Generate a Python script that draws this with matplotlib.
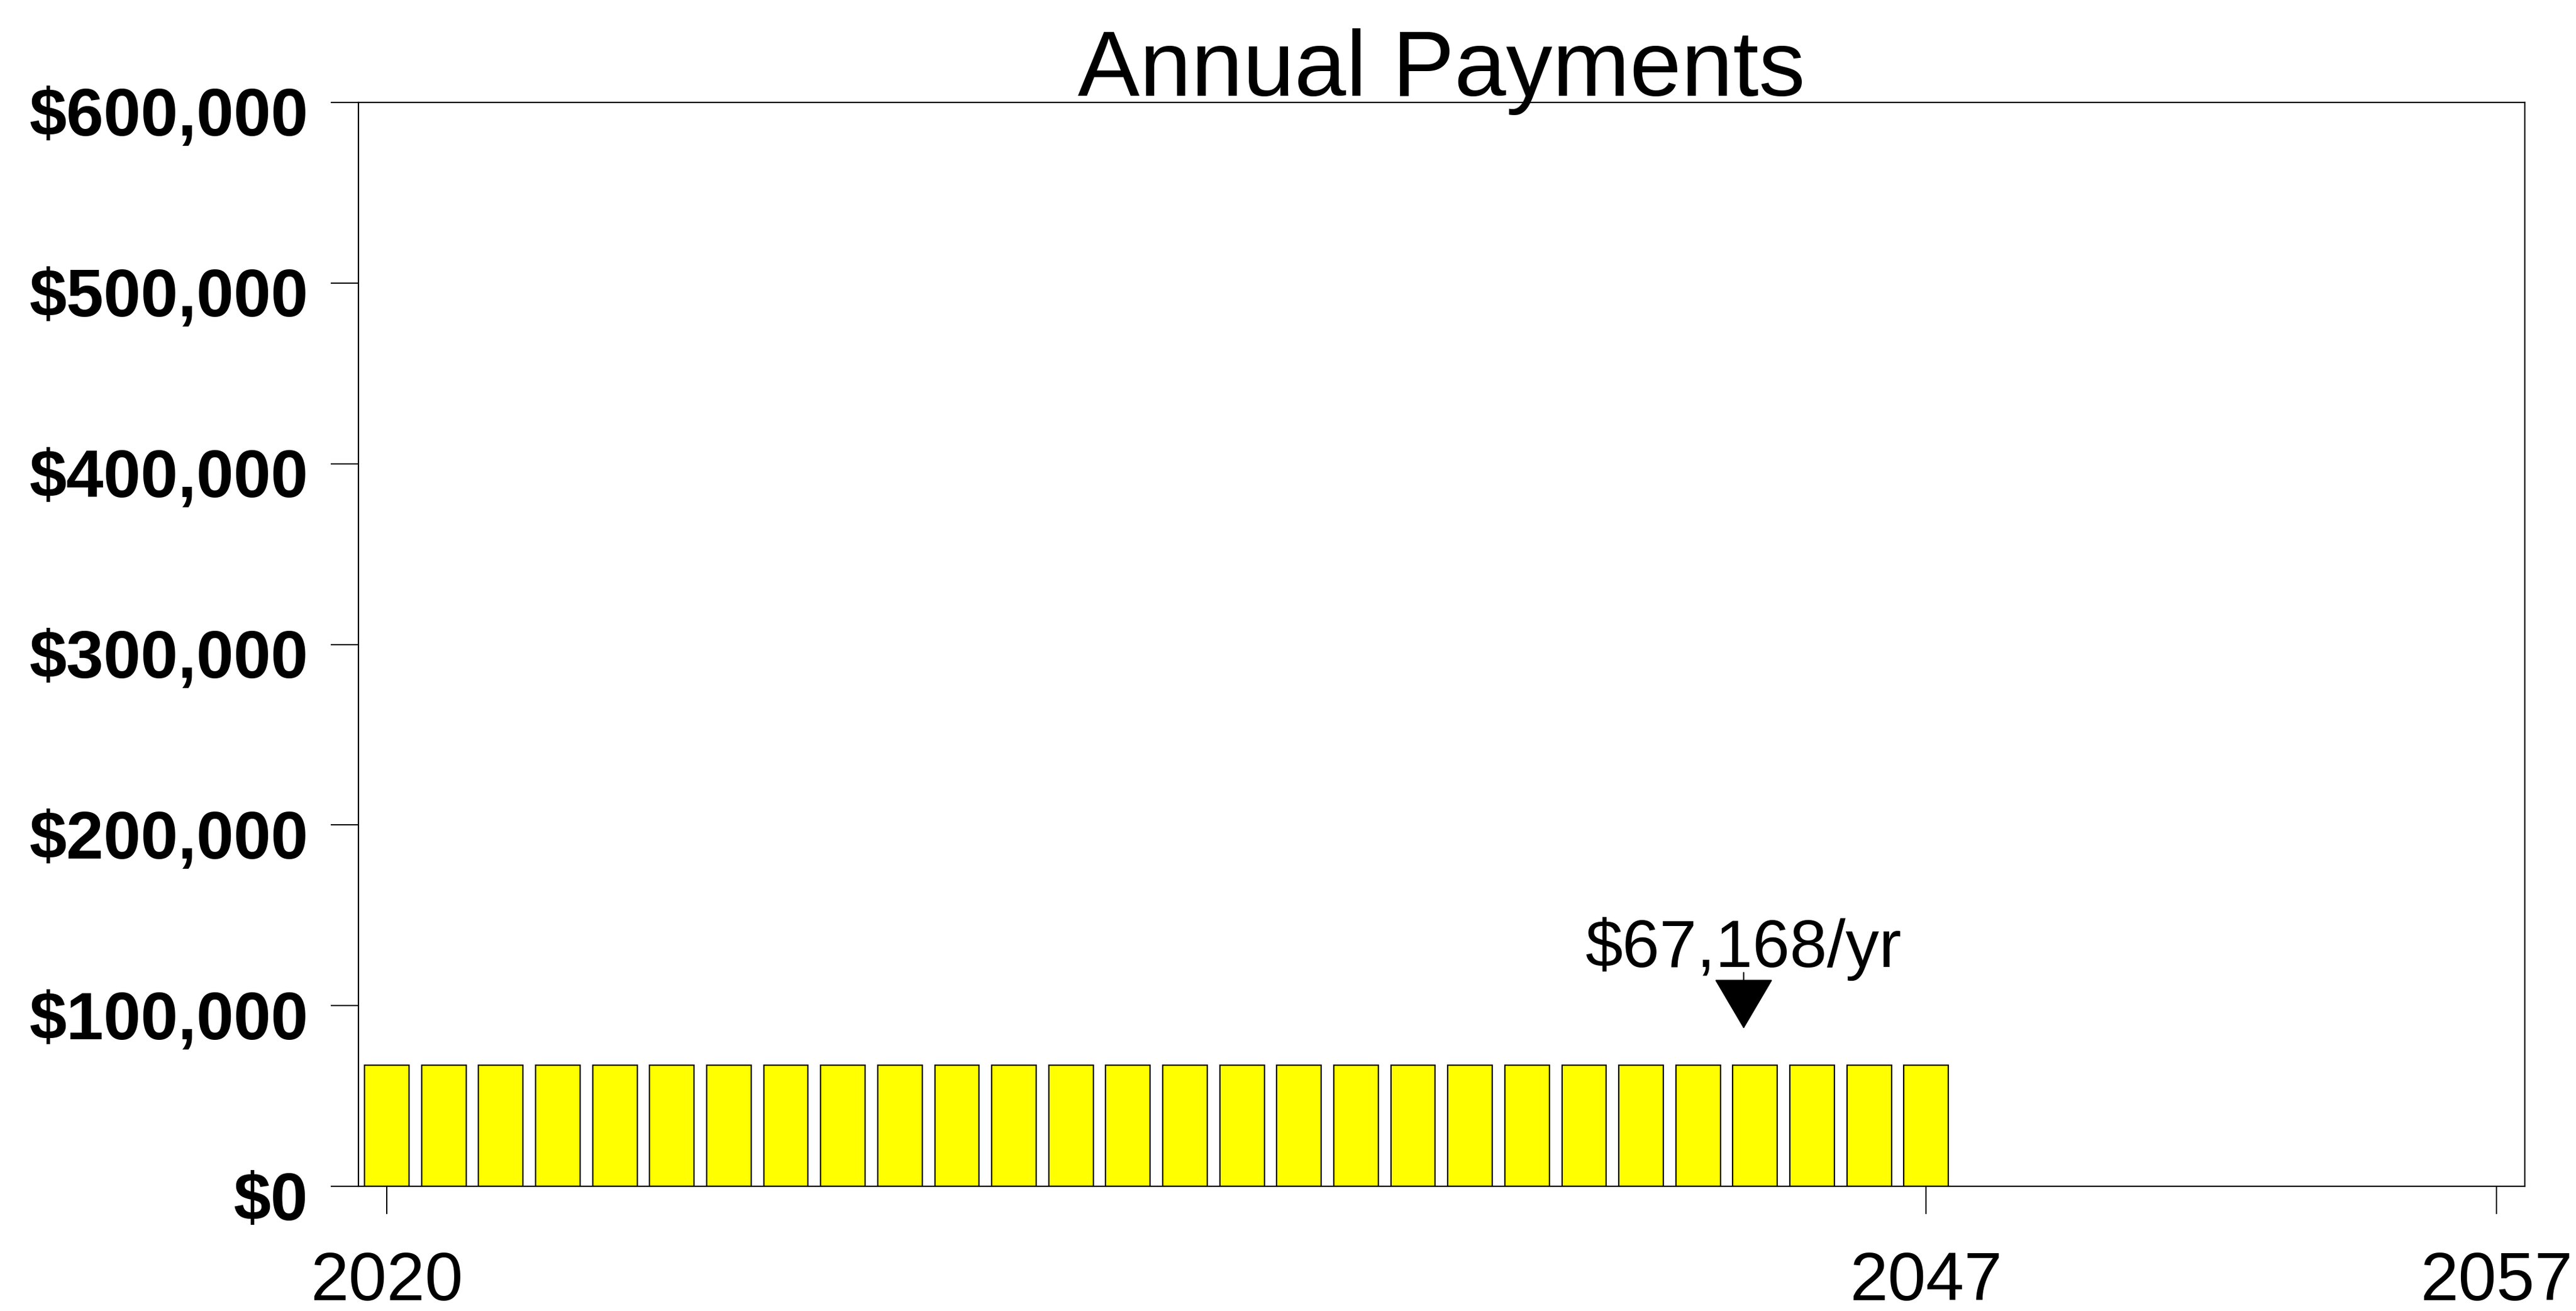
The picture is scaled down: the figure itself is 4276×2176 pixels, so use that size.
import matplotlib
matplotlib.use("Agg")
import matplotlib.pyplot as plt
import matplotlib.transforms as mtransforms
from matplotlib.ticker import FuncFormatter

# dados do gráfico
years = list(range(2020, 2048))
payments = [67168] * len(years)
x_ticks = [2020, 2047, 2057]
y_ticks = [0, 100000, 200000, 300000, 400000, 500000, 600000]
title = "Annual Payments"
label = "$67,168/yr"
arrow_year = 2043.8

plt.rcParams["font.family"] = ["Liberation Sans", "DejaVu Sans"]

fig = plt.figure(figsize=(42.76, 21.76), dpi=100)
ax = fig.add_axes([0.1391, 0.0951, 0.8410, 0.8268])

ax.bar(years, payments, width=0.78, color="#FFFF00", edgecolor="black", linewidth=1.6, zorder=2)

ax.set_xlim(2019.5, 2057.5)
ax.set_ylim(0, 600000)
ax.set_xticks(x_ticks)
ax.set_yticks(y_ticks)
ax.yaxis.set_major_formatter(FuncFormatter(lambda v, p: f"${v:,.0f}"))

ax.tick_params(axis="x", length=33, width=1.5, pad=44, labelsize=82)
ax.tick_params(axis="y", length=33, width=1.5, pad=27, labelsize=80)
for t in ax.get_yticklabels():
    t.set_fontweight("bold")
    # rótulos um pouco abaixo do tick, como no original
    t.set_transform(t.get_transform() + mtransforms.ScaledTranslation(0, -0.15, fig.dpi_scale_trans))
for s in ax.spines.values():
    s.set_linewidth(1.6)

fig.text(0.1391 + 0.8410 / 2, 1 - 159 / 2176, title, ha="center", va="baseline", fontsize=111)

# anotação com seta
tip = payments[0] * 1.3
ax.annotate("", xy=(arrow_year, tip), xytext=(arrow_year, tip + 31000),
            arrowprops=dict(arrowstyle="-|>,head_length=56,head_width=33", mutation_scale=1,
                            color="black", lw=1.5, shrinkA=0, shrinkB=0), zorder=3)
ax.text(arrow_year, tip + 34000, label, ha="center", va="baseline", fontsize=80, zorder=3)

plt.savefig("out.png", dpi=100)
plt.close()
